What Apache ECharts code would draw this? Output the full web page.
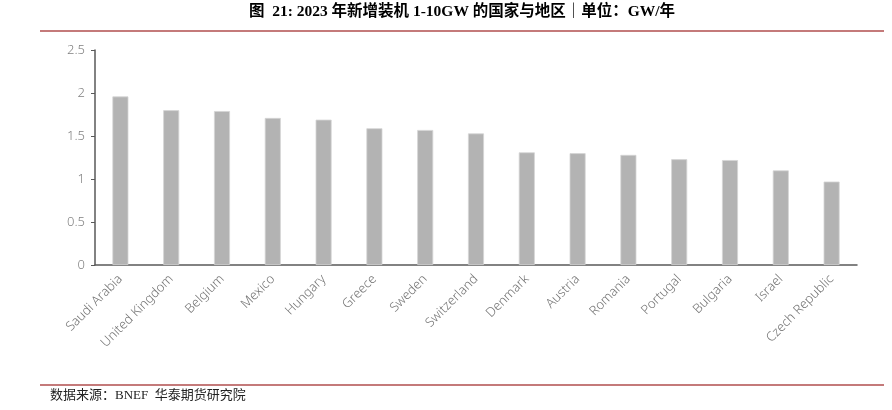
<!DOCTYPE html>
<html><head><meta charset="utf-8">
<script src="https://cdn.jsdelivr.net/npm/echarts@6/dist/echarts.min.js"></script>
<style>html,body{margin:0;padding:0;background:#fff}#c{width:892px;height:410px}</style>
</head><body><div id="c"></div>
<script>
const categories = ["Saudi Arabia","United Kingdom","Belgium","Mexico","Hungary","Greece","Sweden","Switzerland","Denmark","Austria","Romania","Portugal","Bulgaria","Israel","Czech Republic"];
const values = [1.96,1.80,1.79,1.71,1.69,1.59,1.57,1.53,1.31,1.30,1.28,1.23,1.22,1.10,0.97];
const yTicks = [0,0.5,1,1.5,2,2.5];
const titleText = "图  21: 2023 年新增装机 1-10GW 的国家与地区｜单位：GW/年";
const sourceText = "数据来源：BNEF  华泰期货研究院";

const chart = echarts.init(document.getElementById('c'), null, {renderer:'canvas'});
chart.setOption({
  animation:false,
  backgroundColor:'#fff',
  grid:{left:95,right:35,top:50,bottom:145,containLabel:false},
  xAxis:{
    type:'category', data:categories,
    axisLine:{lineStyle:{color:'#595959',width:1.5}},
    axisTick:{show:false},
    axisLabel:{rotate:45,interval:0,margin:12,color:'#737373',fontSize:13,fontFamily:'Noto Sans',fontWeight:300}
  },
  yAxis:{
    type:'value', min:yTicks[0], max:yTicks[yTicks.length-1], interval:0.5,
    axisLine:{show:true,lineStyle:{color:'#595959',width:1.5}},
    axisTick:{show:true,length:4,lineStyle:{color:'#595959'}},
    splitLine:{show:false},
    axisLabel:{margin:10,color:'#808080',fontSize:13,fontFamily:'Noto Sans',fontWeight:300}
  },
  series:[{
    type:'bar', data:values, barWidth:16,
    itemStyle:{color:'#b3b3b3',borderColor:'#d4d4d4',borderWidth:0.8}
  }],
  graphic:[
    {type:'text',x:462,y:12,style:{text:titleText,textAlign:'center',textVerticalAlign:'middle',fill:'#000',font:'bold 15.5px "Liberation Serif","Noto Sans CJK SC"'}},
    {type:'line',shape:{x1:40,y1:31,x2:884,y2:31},style:{stroke:'#c47a7a',lineWidth:2}},
    {type:'line',shape:{x1:40,y1:385,x2:884,y2:385},style:{stroke:'#c47a7a',lineWidth:2}},
    {type:'text',x:50,y:396,style:{text:sourceText,textVerticalAlign:'middle',fill:'#222',font:'13px "Liberation Serif","Noto Sans CJK SC"'}}
  ]
});
</script></body></html>
